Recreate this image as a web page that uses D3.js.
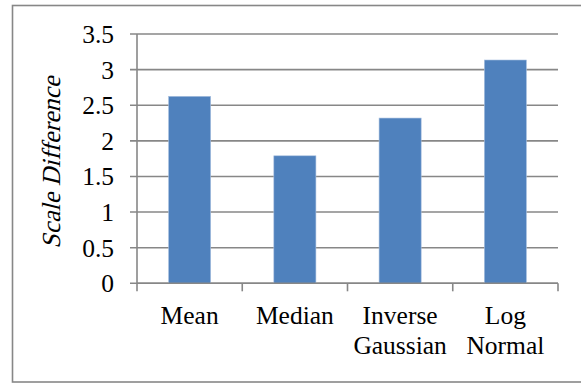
<!DOCTYPE html>
<html>
<head>
<meta charset="utf-8">
<script src="https://cdn.jsdelivr.net/npm/d3@7"></script>
<style>
  html, body { margin: 0; padding: 0; background: #fff; }
  svg { display: block; }
  text { font-family: "Liberation Serif", "Times New Roman", serif; fill: #000; }
</style>
</head>
<body>
<svg id="chart" width="581" height="384"></svg>
<script>
// Chart data
const categories = [["Mean"], ["Median"], ["Inverse", "Gaussian"], ["Log", "Normal"]];
const values = [2.625, 1.79, 2.32, 3.135];
const yTicks = [0, 0.5, 1, 1.5, 2, 2.5, 3, 3.5];
const yTitle = "Scale Difference";

const svg = d3.select("#chart");
const gridColor = "#878787";
const barColor = "#4F81BD";

// Chart frame
svg.append("rect")
  .attr("x", 12.5).attr("y", 5.5)
  .attr("width", 572).attr("height", 376.5)
  .attr("fill", "#fff")
  .attr("stroke", gridColor)
  .attr("stroke-width", 1.6);

const plot = { left: 137, right: 558, top: 34, bottom: 283.3 };

const x = d3.scaleBand()
  .domain(categories.map((d, i) => i))
  .range([plot.left, plot.right])
  .padding(0);

const y = d3.scaleLinear()
  .domain([0, 3.5])
  .range([plot.bottom, plot.top]);

// Horizontal gridlines with left tick marks
svg.append("g")
  .selectAll("line")
  .data(yTicks)
  .join("line")
  .attr("x1", plot.left - 7)
  .attr("x2", plot.right)
  .attr("y1", d => y(d))
  .attr("y2", d => y(d))
  .attr("stroke", gridColor)
  .attr("stroke-width", 1.6);

// Y axis line
svg.append("line")
  .attr("x1", plot.left).attr("x2", plot.left)
  .attr("y1", plot.top).attr("y2", plot.bottom)
  .attr("stroke", gridColor).attr("stroke-width", 1.6);

// Y tick labels
svg.append("g")
  .selectAll("text")
  .data(yTicks)
  .join("text")
  .attr("x", plot.left - 23)
  .attr("y", d => y(d) + 9)
  .attr("text-anchor", "end")
  .attr("font-size", "25.5px")
  .text(d => d3.format("")(d));

// Bars
const barW = x.bandwidth() * 0.4;
svg.append("g")
  .selectAll("rect")
  .data(values)
  .join("rect")
  .attr("x", (d, i) => x(i) + (x.bandwidth() - barW) / 2)
  .attr("width", barW)
  .attr("y", d => y(d))
  .attr("height", d => y(0) - y(d))
  .attr("fill", barColor)
  .attr("stroke", "#a9c1e0")
  .attr("stroke-width", 0.6);

// X axis line and category tick marks
svg.append("line")
  .attr("x1", plot.left).attr("x2", plot.right)
  .attr("y1", plot.bottom).attr("y2", plot.bottom)
  .attr("stroke", gridColor).attr("stroke-width", 1.6);

const boundaries = categories.map((d, i) => x(i)).concat([plot.right]);
svg.append("g")
  .selectAll("line")
  .data(boundaries)
  .join("line")
  .attr("x1", d => d).attr("x2", d => d)
  .attr("y1", plot.bottom).attr("y2", plot.bottom + 8)
  .attr("stroke", gridColor).attr("stroke-width", 1.6);

// Category labels
const labels = svg.append("g")
  .selectAll("text")
  .data(categories)
  .join("text")
  .attr("text-anchor", "middle")
  .attr("font-size", "25.5px");
labels.selectAll("tspan")
  .data((d, i) => d.map(line => ({ line, i })))
  .join("tspan")
  .attr("x", d => x(d.i) + x.bandwidth() / 2)
  .attr("y", (d, j) => plot.bottom + 40.7 + j * 30)
  .text(d => d.line);

// Y axis title (serif, slanted)
svg.append("text")
  .attr("transform", `translate(60, ${(plot.top + plot.bottom) / 2 + 4}) rotate(-90) skewX(-14)`)
  .attr("text-anchor", "middle")
  .attr("font-family", "'Liberation Serif', serif")
  .attr("font-size", "26px")
  .attr("textLength", 172)
  .attr("lengthAdjust", "spacingAndGlyphs")
  .text(yTitle);
</script>
</body>
</html>
